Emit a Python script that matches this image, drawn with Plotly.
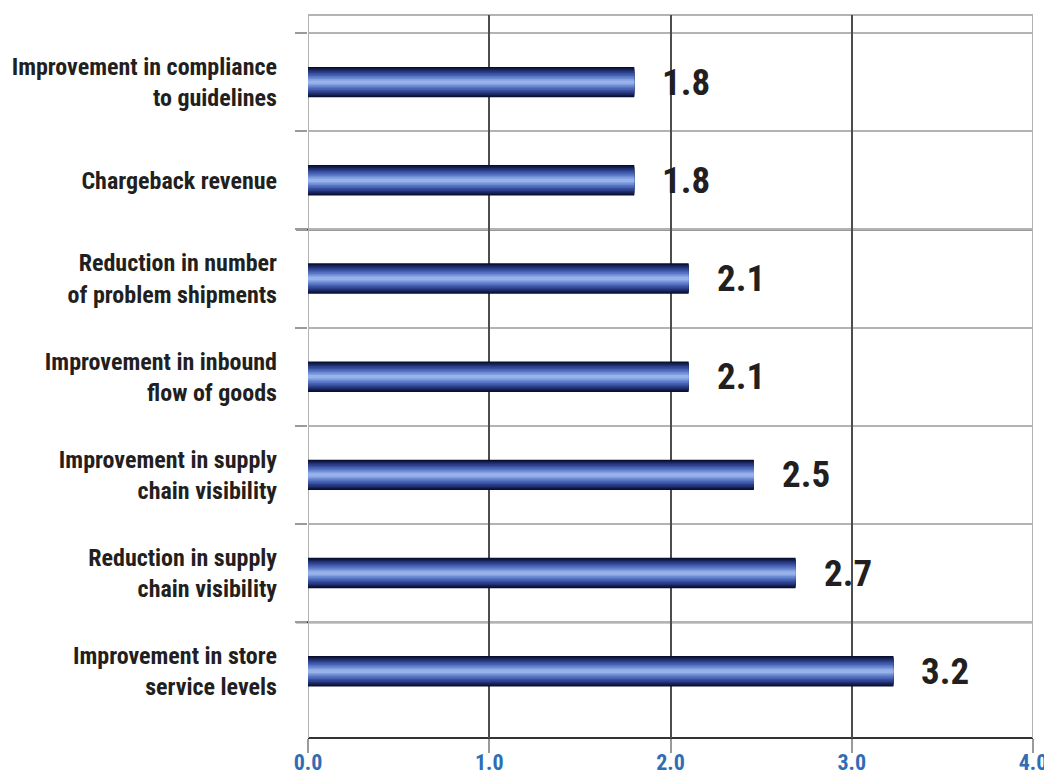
import plotly.graph_objects as go

categories = [
    "Improvement in compliance<br>to guidelines",
    "Chargeback revenue",
    "Reduction in number<br>of problem shipments",
    "Improvement in inbound<br>flow of goods",
    "Improvement in supply<br>chain visibility",
    "Reduction in supply<br>chain visibility",
    "Improvement in store<br>service levels",
]
values = [1.80, 1.80, 2.10, 2.10, 2.46, 2.69, 3.23]
value_labels = ["1.8", "1.8", "2.1", "2.1", "2.5", "2.7", "3.2"]
x_ticks = [0, 1, 2, 3, 4]
x_tick_labels = ["0.0", "1.0", "2.0", "3.0", "4.0"]

FONT = "Liberation Sans Narrow, Roboto Condensed, DejaVu Sans Condensed, Arial Narrow, sans-serif"
pos = list(range(len(categories)))
separators = [p - 0.5 for p in pos]

fig = go.Figure()

# layered bars to imitate the tubular gradient
layers = [
    (0.310, "#090e2b"),
    (0.290, "#0f1742"),
    (0.268, "#172259"),
    (0.245, "#213071"),
    (0.218, "#2c3f89"),
    (0.188, "#394f9e"),
    (0.158, "#4762b3"),
    (0.126, "#5875c4"),
    (0.094, "#6c8bd3"),
    (0.062, "#83a0e0"),
    (0.034, "#99b3ea"),
]
for w, col in layers:
    fig.add_trace(go.Bar(
        x=values, y=pos, orientation="h", width=w,
        marker=dict(color=col, line=dict(width=0)),
        hoverinfo="skip", showlegend=False,
    ))

for v, p, t in zip(values, pos, value_labels):
    fig.add_annotation(x=v, y=p, text=t, xanchor="left", yanchor="middle",
                       xshift=26, showarrow=False,
                       font=dict(family=FONT, size=37, color="#231f20", weight="bold"))

# special lines
fig.add_shape(type="line", xref="paper", yref="paper", x0=0, x1=1, y0=1, y1=1,
              line=dict(color="#b3b3b3", width=2), layer="below")
fig.add_shape(type="line", xref="paper", yref="paper", x0=0, x1=1, y0=0, y1=0,
              line=dict(color="#333333", width=2), layer="below")
for yv in [separators[2], separators[6]]:
    fig.add_shape(type="line", xref="paper", yref="y", x0=-12 / 725, x1=1, y0=yv, y1=yv,
                  line=dict(color="#333333", width=2), layer="below")
for xv in [x_ticks[0], x_ticks[-1]]:
    fig.add_shape(type="line", xref="x", yref="paper", x0=xv, x1=xv, y0=0, y1=1,
                  line=dict(color="#b3b3b3", width=2), layer="below")

fig.update_layout(
    width=1044, height=780,
    margin=dict(l=308, r=11, t=15, b=42, autoexpand=False),
    paper_bgcolor="white", plot_bgcolor="white",
    barmode="overlay",
    showlegend=False,
    xaxis=dict(
        range=[0, 4], tickmode="array", tickvals=x_ticks, ticktext=x_tick_labels,
        showgrid=True, gridcolor="#4d4d4d", gridwidth=2, zeroline=False,
        showline=False, ticks="outside", ticklen=14, tickwidth=2, tickcolor="#9a9a9a",
        ticklabeloverflow="allow", automargin=False, ticklabelstandoff=-9,
        tickfont=dict(family=FONT, size=22, color="#2f6db5", weight="bold"),
        fixedrange=True,
    ),
    yaxis=dict(
        range=[6.68, -0.684], tickmode="array", tickvals=pos, ticktext=categories,
        showgrid=False, zeroline=False, showline=False, ticks="",
        ticklabelstandoff=30, automargin=False,
        tickfont=dict(family=FONT, size=24, color="#231f20", weight="bold"),
        minor=dict(tickmode="array", tickvals=separators, showgrid=True,
                   gridcolor="#b3b3b3", gridwidth=2, ticks="outside", ticklen=12,
                   tickwidth=2, tickcolor="#9a9a9a"),
        fixedrange=True,
    ),
)

fig.write_html("out.html", config={"displayModeBar": False},
               post_script="document.body.style.margin='0';document.body.style.overflow='hidden';")
